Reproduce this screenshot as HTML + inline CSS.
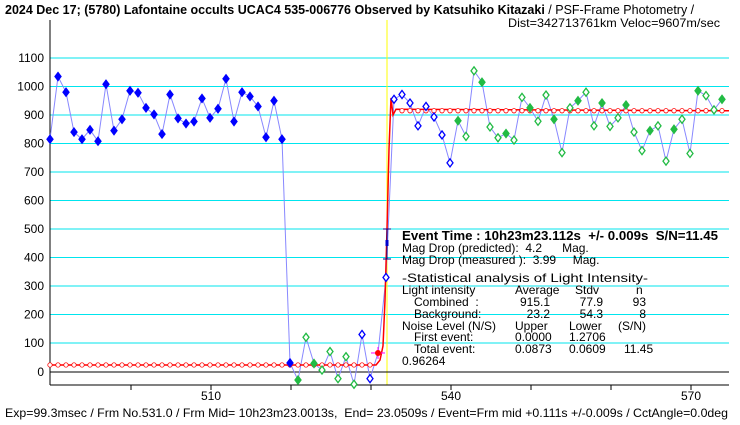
<!DOCTYPE html><html><head><style>body{margin:0;background:#fff}svg{display:block}text{white-space:pre}</style></head><body>
<svg id="s" width="740" height="425" xmlns="http://www.w3.org/2000/svg" font-family="Liberation Sans, sans-serif" font-size="12" xml:space="preserve">
<rect width="740" height="425" fill="#fff"/>
<g id="grid"></g>
<line x1="387" y1="20" x2="387" y2="385" stroke="#ffff00" stroke-width="1"/>
<line x1="50" y1="20" x2="50" y2="385" stroke="#000"/>
<line x1="50" y1="372" x2="729" y2="372" stroke="#000"/>
<line x1="50" y1="385" x2="729" y2="385" stroke="#000"/>
<g id="ticks"></g>
<g id="data"></g>
<text x="5" y="14" font-weight="bold" font-size="12.5">2024 Dec 17; (5780) Lafontaine occults UCAC4 535-006776 Observed by Katsuhiko Kitazaki <tspan font-weight="normal">/ PSF-Frame Photometry /</tspan></text>
<text x="508" y="27" textLength="212" lengthAdjust="spacingAndGlyphs">Dist=342713761km Veloc=9607m/sec</text>
<g font-size="12">
<text x="402" y="240" font-weight="bold" font-size="12.5" textLength="316" lengthAdjust="spacingAndGlyphs">Event Time : 10h23m23.112s  +/- 0.009s  S/N=11.45</text>
<text x="402" y="252">Mag Drop (predicted):  4.2      Mag.</text>
<text x="402" y="264">Mag Drop (measured ):  3.99     Mag.</text>
<text x="402" y="282" textLength="246" lengthAdjust="spacingAndGlyphs">-Statistical analysis of Light Intensity-</text>
<text x="402" y="294">Light intensity</text><text x="515" y="294">Average</text><text x="575" y="294">Stdv</text><text x="636" y="294">n</text>
<text x="414" y="306">Combined  :</text><text x="550" y="306" text-anchor="end">915.1</text><text x="603" y="306" text-anchor="end">77.9</text><text x="646" y="306" text-anchor="end">93</text>
<text x="414" y="318">Background:</text><text x="550" y="318" text-anchor="end">23.2</text><text x="603" y="318" text-anchor="end">54.3</text><text x="646" y="318" text-anchor="end">8</text>
<text x="402" y="330">Noise Level (N/S)</text><text x="515" y="330">Upper</text><text x="569" y="330">Lower</text><text x="618" y="330">(S/N)</text>
<text x="414" y="341">First event:</text><text x="515" y="341">0.0000</text><text x="569" y="341">1.2706</text>
<text x="414" y="353">Total event:</text><text x="515" y="353">0.0873</text><text x="569" y="353">0.0609</text><text x="624" y="353">11.45</text>
<text x="402" y="365">0.96264</text>
</g>
<text x="5" y="417" textLength="723" lengthAdjust="spacingAndGlyphs">Exp=99.3msec / Frm No.531.0 / Frm Mid= 10h23m23.0013s,  End= 23.0509s / Event=Frm mid +0.111s +/-0.009s / CctAngle=0.0deg</text>
</svg>
<script>
const Y=v=>371.5-v*0.285,X=f=>51+8*(f-490);
let g='';
for(let v=100;v<=1100;v+=100){g+=`<line x1="50" y1="${Y(v)}" x2="729" y2="${Y(v)}" stroke="#00e5ee"/>`;g+=`<text x="44" y="${Y(v)+4}" text-anchor="end">${v}</text>`;}
g+=`<text x="44" y="376" text-anchor="end">0</text>`;
document.getElementById('grid').innerHTML=g;
let t='';for(let f=500;f<=570;f+=10){t+=`<line x1="${X(f)}" y1="385" x2="${X(f)}" y2="390" stroke="#000"/>`;}
t+=`<text x="211" y="400" text-anchor="middle">510</text><text x="451" y="400" text-anchor="middle">540</text><text x="691" y="400" text-anchor="middle">570</text>`;
document.getElementById('ticks').innerHTML=t;
const vals=[815,1035,980,840,815,848,808,1008,845,885,985,978,925,902,833,972,888,870,877,958,890,922,1027,877,980,965,930,822,950,815,30,-30,120,28,5,70,-25,52,-45,130,-25,65,330,955,972,942,862,930,893,830,732,880,825,1055,1015,858,820,835,812,962,925,878,970,885,768,925,950,980,862,942,860,890,935,840,775,845,862,738,850,885,765,985,968,918,955];
let d='';
let pts=vals.map((v,i)=>`${50+8*i},${Y(v)}`).join(' ');
d+=`<polyline points="${pts}" fill="none" stroke="#8888ff" stroke-width="1"/>`;
let m=[];for(let x=50;x<=376;x+=2)m.push(`${x},${Y(23)}`);
m.push(`380,${Y(40)}`,`383,${Y(90)}`,`385,${Y(250)}`,`387,${Y(500)}`,`389,${Y(780)}`,`391,${Y(960)}`,`393,${Y(900)}`,`396,${Y(920)}`,`729,${Y(915)}`);
d+=`<polyline points="${m.join(' ')}" fill="none" stroke="#ff0000" stroke-width="1.5"/>`;
for(let x=50;x<=376;x+=8)d+=`<circle cx="${x}" cy="${Y(23)}" r="2.2" fill="#fff" stroke="#ff0000" stroke-width="0.8"/>`;
for(let x=402;x<=729;x+=8)d+=`<circle cx="${x}" cy="${Y(915)}" r="2.2" fill="#fff" stroke="#ff0000" stroke-width="0.8"/>`;
d+=`<line x1="387" y1="229" x2="387" y2="259" stroke="#00008b"/><line x1="383" y1="229" x2="391" y2="229" stroke="#00008b"/><line x1="383" y1="259" x2="391" y2="259" stroke="#00008b"/><rect x="385.5" y="240" width="3" height="6" fill="#0000cc"/>`;
vals.forEach((v,i)=>{const x=50+8*i,y=Y(v);
 if(i==41){d+=`<line x1="371" y1="${y}" x2="385" y2="${y}" stroke="#ff00ff"/><line x1="378" y1="${y-6}" x2="378" y2="${y+6}" stroke="#ff00ff"/><circle cx="${x}" cy="${y}" r="3" fill="#ff0000"/>`;return;}
 let col,fill;
 if(i<=30){col='#0000ff';fill=true;}
 else if(i<39){col='#22bb44';fill=(i==31||i==33);}
 else if(i<=50){col='#0000ff';fill=false;}
 else {col='#22bb44';fill=(i%3==0);}
 d+=`<polygon points="${x},${y-4} ${x+3},${y} ${x},${y+4} ${x-3},${y}" fill="${fill?col:'#fff'}" stroke="${col}" stroke-width="1.3"/>`;
});
document.getElementById('data').innerHTML=d;
</script>
</body></html>
